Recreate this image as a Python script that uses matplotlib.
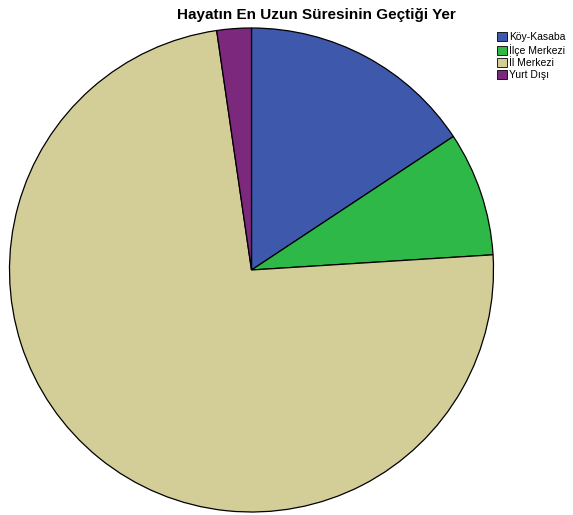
import matplotlib
matplotlib.use("Agg")
import matplotlib.pyplot as plt
from matplotlib.patches import Patch

categories = ["Köy-Kasaba", "İlçe Merkezi", "İl Merkezi", "Yurt Dışı"]
values = [15.7, 8.3, 73.7, 2.3]
colors = ["#3E58AC", "#2EB848", "#D3CE97", "#7C287D"]

plt.rcParams['font.family'] = ['Liberation Sans', 'DejaVu Sans']

W, H = 573, 515
fig = plt.figure(figsize=(W / 100, H / 100), dpi=100)
cx, cy, r = 251.5, 270, 242
ax = fig.add_axes([(cx - r) / W, (H - cy - r) / H, 2 * r / W, 2 * r / H])
wedges, _ = ax.pie(values, colors=colors, startangle=90, counterclock=False,
                   radius=1, wedgeprops=dict(edgecolor="black", linewidth=0.9))
ax.set_xlim(-1.0, 1.0)
ax.set_ylim(-1.0, 1.0)
ax.set_aspect("auto")
ax.axis("off")

fig.text(316 / W, 1 - 15 / H, "Hayatın En Uzun Süresinin Geçtiği Yer",
         ha="center", va="center", fontsize=11, fontweight="bold")

handles = [Patch(facecolor=c, edgecolor="black", linewidth=0.6) for c in colors]
fig.legend(handles, categories, loc="upper left",
           bbox_to_anchor=(495 / W, 1 - 30 / H), frameon=False,
           fontsize=7.5, handlelength=0.95, handleheight=0.95, handletextpad=0.2,
           labelspacing=0.2, borderaxespad=0, borderpad=0.2)

fig.savefig("out.png", dpi=100)
